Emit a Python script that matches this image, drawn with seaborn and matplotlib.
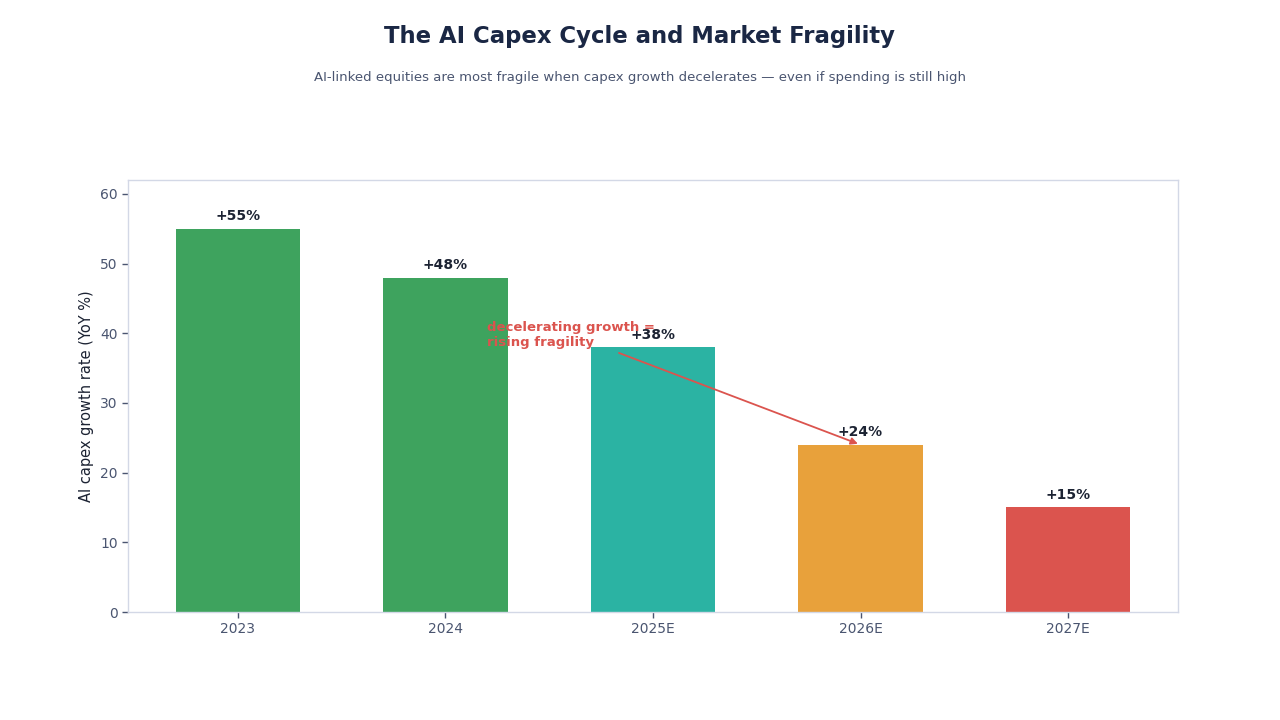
import matplotlib
matplotlib.use("Agg")
import matplotlib.pyplot as plt
import seaborn as sns
import pandas as pd

years = ["2023", "2024", "2025E", "2026E", "2027E"]
growth = [55, 48, 38, 24, 15]
labels = ["+55%", "+48%", "+38%", "+24%", "+15%"]
colors = ["#3ea35e", "#3ea35e", "#2bb3a3", "#e8a13b", "#db544e"]

sns.set_theme(style="white")
plt.rcParams["font.family"] = ["DejaVu Sans"]

df = pd.DataFrame({"year": years, "growth": growth})

fig = plt.figure(figsize=(12.8, 7.2), dpi=100)
ax = fig.add_axes([128 / 1280, 1 - 612 / 720, (1178 - 128) / 1280, (612 - 180) / 720])

sns.barplot(data=df, x="year", y="growth", hue="year", palette=colors,
            legend=False, width=0.6, ax=ax, saturation=1, linewidth=0, edgecolor="none")

ax.set_xlim(-0.53, 4.53)
ax.set_ylim(0, 62.0)
ax.set_yticks([0, 10, 20, 30, 40, 50, 60])

for i, (v, lab) in enumerate(zip(growth, labels)):
    ax.text(i, v + 0.8, lab, ha="center", va="bottom", fontsize=10,
            fontweight="bold", color="#1c2333")

ax.annotate("decelerating growth =\nrising fragility", xy=(3, 24), xytext=(1.2, 39.8),
            ha="left", va="center", fontsize=9.5, fontweight="bold", color="#db544e",
            arrowprops=dict(arrowstyle="-|>", color="#db544e", lw=1.3,
                            mutation_scale=10))

ax.set_xlabel("")
ax.set_ylabel("AI capex growth rate (YoY %)", fontsize=10.5, color="#1c2333")
for s in ax.spines.values():
    s.set_color("#d3d8e6")
    s.set_linewidth(1)
ax.tick_params(axis="both", colors="#4a5570", labelsize=10, length=4, width=1,
               left=True, bottom=True)

fig.text(0.5, 1 - 36 / 720, "The AI Capex Cycle and Market Fragility", ha="center",
         va="center", fontsize=16.4, fontweight="bold", color="#1a2744")
fig.text(0.5, 1 - 77 / 720,
         "AI-linked equities are most fragile when capex growth decelerates \u2014 even if spending is still high",
         ha="center", va="center", fontsize=9.5, color="#4a5570")

fig.savefig("out.png", dpi=100)
